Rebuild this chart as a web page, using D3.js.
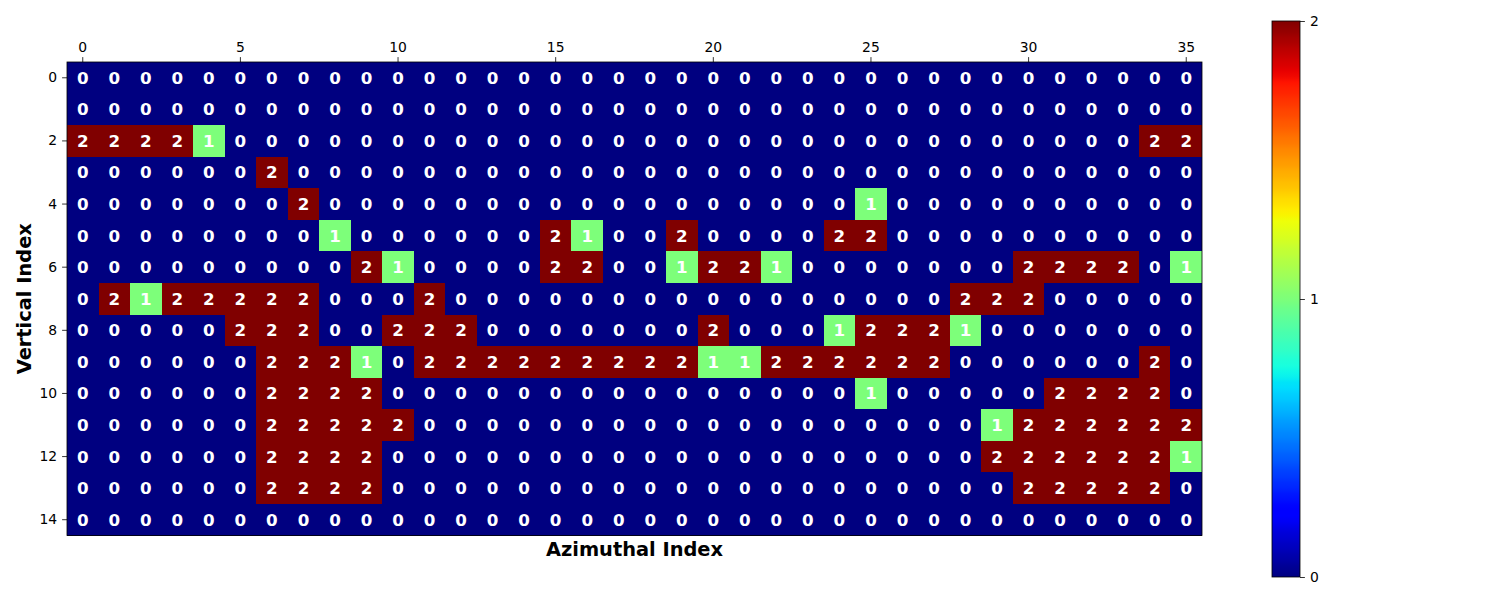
<!DOCTYPE html>
<html><head><meta charset="utf-8">
<script src="https://cdn.jsdelivr.net/npm/d3@7"></script>
<style>body{margin:0;background:#fff;} text{font-family:"DejaVu Sans",sans-serif;}</style>
</head><body>
<svg id="chart" width="1500" height="600"></svg>
<script>
const rows = d3.range(15);
const cols = d3.range(36);
const xTicks = [0,5,10,15,20,25,30,35];
const yTicks = [0,2,4,6,8,10,12,14];
const cbTicks = [0,1,2];
const xLabel = "Azimuthal Index";
const yLabel = "Vertical Index";
const grid = [
"000000000000000000000000000000000000",
"000000000000000000000000000000000000",
"222210000000000000000000000000000022",
"000000200000000000000000000000000000",
"000000020000000000000000010000000000",
"000000001000000210020000220000000000",
"000000000210000220012210000000222201",
"021222220002000000000000000022200000",
"000002220022200000002000122210000000",
"000000222102222222221122222200000020",
"000000222200000000000000010000022220",
"000000222220000000000000000001222222",
"000000222200000000000000000002222221",
"000000222200000000000000000000222220",
"000000000000000000000000000000000000"
];
const values = grid.map(r => r.split("").map(Number));

// matplotlib jet
const jetR=[[0,0],[0.35,0],[0.66,1],[0.89,1],[1,0.5]];
const jetG=[[0,0],[0.125,0],[0.375,1],[0.64,1],[0.91,0],[1,0]];
const jetB=[[0,0.5],[0.11,1],[0.34,1],[0.65,0],[1,0]];
function seg(s,x){for(let i=1;i<s.length;i++){if(x<=s[i][0]){const t=(x-s[i-1][0])/(s[i][0]-s[i-1][0]);return s[i-1][1]+t*(s[i][1]-s[i-1][1]);}}return s[s.length-1][1];}
function jet(x){x=Math.round(Math.max(0,Math.min(1,x))*255)/255;return d3.rgb(Math.round(seg(jetR,x)*255),Math.round(seg(jetG,x)*255),Math.round(seg(jetB,x)*255)).formatHex();}
const color = d3.scaleLinear().domain([0,2]).range([0,1]);

const svg = d3.select("#chart");
const L=67,R=1202,T=62,B=535.5;
const x = d3.scaleBand().domain(cols).range([L,R]);
const y = d3.scaleBand().domain(rows).range([T,B]);

const cells=[];
values.forEach((r,i)=>r.forEach((v,j)=>cells.push({i,j,v})));
svg.append("rect").attr("x",L).attr("y",T).attr("width",R-L).attr("height",B-T).attr("fill",jet(0));
svg.append("g").attr("shape-rendering","crispEdges").selectAll("rect").data(cells).join("rect")
  .attr("x",d=>x(d.j)).attr("y",d=>y(d.i))
  .attr("width",x.bandwidth()+0.4).attr("height",y.bandwidth()+0.4)
  .attr("fill",d=>jet(color(d.v)));
svg.append("g").selectAll("text").data(cells).join("text")
  .attr("x",d=>x(d.j)+x.bandwidth()/2).attr("y",d=>y(d.i)+y.bandwidth()/2)
  .attr("text-anchor","middle").attr("dominant-baseline","central")
  .attr("fill","#fff").attr("font-weight","bold").attr("font-size","16.7px")
  .text(d=>d.v);

svg.append("rect").attr("x",L).attr("y",T).attr("width",R-L).attr("height",B-T)
  .attr("fill","none").attr("stroke","#000").attr("stroke-width",0.8);

function styleAxis(g){g.attr("font-family",null).attr("font-size",null);g.select(".domain").remove();g.selectAll(".tick line").attr("stroke","#000").attr("stroke-width",0.8);g.selectAll(".tick text").style("font-size","13.9px").attr("fill","#000").style("font-family","DejaVu Sans");}
svg.append("g").attr("transform",`translate(0,${T})`)
  .call(d3.axisTop(x).tickValues(xTicks).tickSize(4.9).tickPadding(5)).call(styleAxis);
svg.append("g").attr("transform",`translate(${L},0)`)
  .call(d3.axisLeft(y).tickValues(yTicks).tickSize(4.9).tickPadding(5)).call(styleAxis);

svg.append("text").attr("x",(L+R)/2).attr("y",556).attr("text-anchor","middle")
  .attr("font-weight","bold").attr("font-size","19.4px").text(xLabel);
svg.append("text").attr("transform",`translate(31,${(T+B)/2}) rotate(-90)`).attr("text-anchor","middle")
  .attr("font-weight","bold").attr("font-size","19.4px").text(yLabel);

// colorbar
const cbL=1272,cbW=28,cbT=21,cbB=577;
const defs=svg.append("defs");
const grad=defs.append("linearGradient").attr("id","jetgrad").attr("x1",0).attr("y1",1).attr("x2",0).attr("y2",0);
d3.range(0,1.0001,0.01).forEach(t=>grad.append("stop").attr("offset",t).attr("stop-color",jet(t)));
svg.append("rect").attr("x",cbL).attr("y",cbT).attr("width",cbW).attr("height",cbB-cbT)
  .attr("fill","url(#jetgrad)").attr("stroke","#000").attr("stroke-width",0.8);
const cy = d3.scaleLinear().domain([0,2]).range([cbB,cbT]);
svg.append("g").attr("transform",`translate(${cbL+cbW},0)`)
  .call(d3.axisRight(cy).tickValues(cbTicks).tickFormat(d3.format("d")).tickSize(4.9).tickPadding(5)).call(styleAxis);
</script>
</body></html>
